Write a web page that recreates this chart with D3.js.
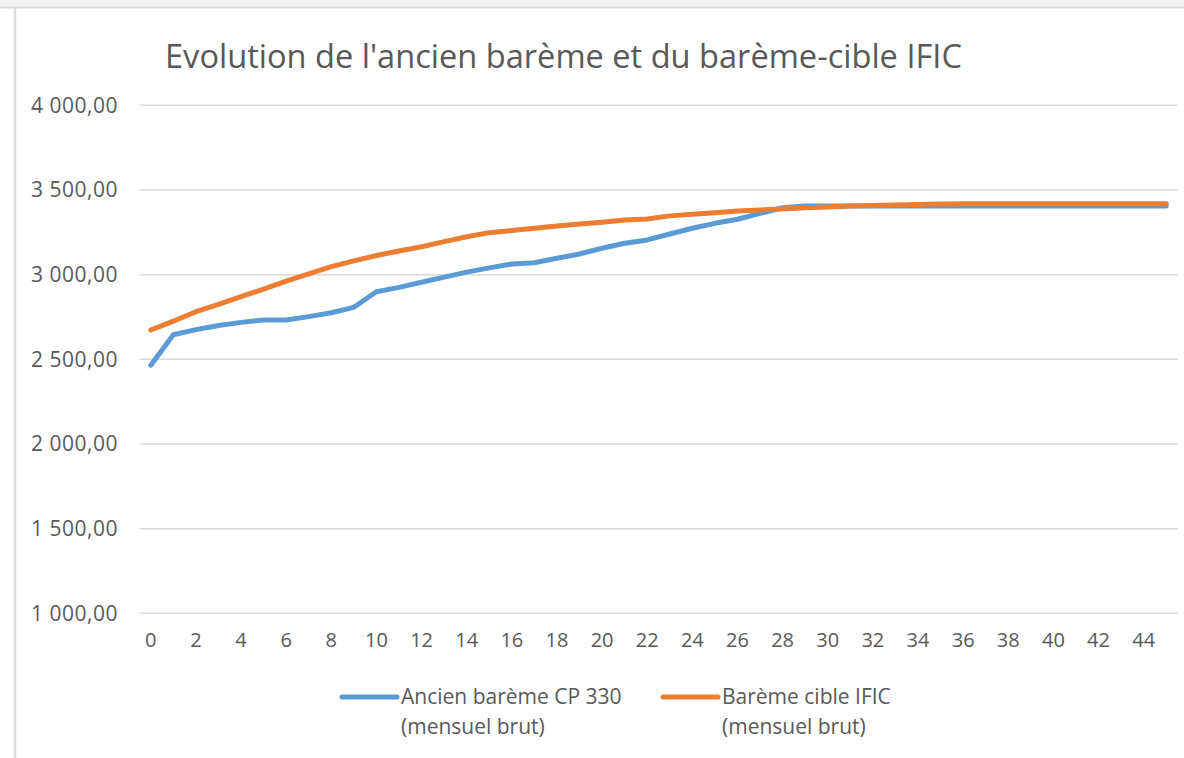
<!DOCTYPE html>
<html>
<head>
<meta charset="utf-8">
<script src="https://cdn.jsdelivr.net/npm/d3@7"></script>
<style>
  body { margin: 0; background: #fff; }
  text { font-family: "Open Sans", sans-serif; fill: #595959; }
</style>
</head>
<body>
<script>
// categories (anciennete, years)
var years = [0,1,2,3,4,5,6,7,8,9,10,11,12,13,14,15,16,17,18,19,20,21,22,23,
             24,25,26,27,28,29,30,31,32,33,34,35,36,37,38,39,40,41,42,43,44,45];

// Ancien barème CP 330 (mensuel brut)
var ancien = [2465,2645,2675,2700,2718,2732,2732,2752,2775,2807,2899,2925,2955,2985,3015,3040,
              3063,3070,3097,3122,3156,3185,3205,3240,3274,3303,3327,3362,3395,3405,3405,3405,
              3405,3405,3405,3405,3405,3405,3405,3405,3405,3405,3405,3405,3405,3405];

// Barème cible IFIC (mensuel brut)
var cible = [2673,2725,2781,2825,2870,2915,2962,3004,3047,3081,3113,3140,3165,3195,3224,3248,
             3260,3274,3287,3299,3309,3323,3329,3347,3357,3366,3376,3382,3388,3395,3400,3405,
             3408,3411,3414,3417,3419,3419,3419,3419,3419,3419,3419,3419,3419,3419];

var yTicks = [1000,1500,2000,2500,3000,3500,4000];
var seriesNames = [["Ancien barème CP 330", "(mensuel brut)"], ["Barème cible IFIC", "(mensuel brut)"]];
var colors = ["#5B9BD5", "#ED7D31"];

var WIDTH = 1184;
var HEIGHT = 758;

var svg = d3.select("body")
	.append("svg")
	.attr("width", WIDTH)
	.attr("height", HEIGHT);

// screenshot frame: grey band on top, border lines
svg.append("rect").attr("x", 0).attr("y", 0).attr("width", WIDTH).attr("height", 7).attr("fill", "#f2f2f2");
svg.append("line").attr("x1", 0).attr("x2", WIDTH).attr("y1", 7.5).attr("y2", 7.5)
	.attr("stroke", "#dcdcdc").attr("stroke-width", 2);
svg.append("line").attr("x1", 15).attr("x2", 15).attr("y1", 7).attr("y2", HEIGHT)
	.attr("stroke", "#dcdcdc").attr("stroke-width", 2.5);

var x = d3.scaleBand()
	.domain(years)
	.range([139.5, 1177.5]);

var y = d3.scaleLinear()
	.domain([1000, 4000])
	.range([613.3, 105.3]);

// french style numbers
var fr = d3.formatLocale({decimal: ",", thousands: "\u00a0", grouping: [3], currency: ["", ""]});
var fmt = fr.format(",.2f");

// gridlines
svg.append("g")
	.selectAll("line")
	.data(yTicks)
	.enter()
	.append("line")
	.attr("x1", x.range()[0])
	.attr("x2", x.range()[1])
	.attr("y1", function(d){ return y(d); })
	.attr("y2", function(d){ return y(d); })
	.attr("stroke", "#d9d9d9")
	.attr("stroke-width", 1.5);

// y axis labels
var yAxis = d3.axisLeft(y).tickValues(yTicks).tickFormat(fmt).tickSize(0).tickPadding(0);
var gy = svg.append("g").attr("transform", "translate(118,0)").call(yAxis);
gy.select(".domain").remove();
gy.selectAll("text").attr("font-size", 21).attr("letter-spacing", 0.5)
	.attr("fill", "#595959").attr("font-family", "Open Sans");

// x axis labels (every second category)
var xAxis = d3.axisBottom(x)
	.tickValues(years.filter(function(d){ return d % 2 === 0; }))
	.tickSize(0).tickPadding(0);
var gx = svg.append("g").attr("transform", "translate(0,633)").call(xAxis);
gx.select(".domain").remove();
gx.selectAll("text").attr("font-size", 20).attr("fill", "#595959").attr("font-family", "Open Sans");

var line = d3.line()
	.x(function(d, i){ return x(years[i]) + x.bandwidth() / 2; })
	.y(function(d){ return y(d); });

[ancien, cible].forEach(function(s, k){
	svg.append("path")
		.datum(s)
		.attr("d", line)
		.attr("fill", "none")
		.attr("stroke", colors[k])
		.attr("stroke-width", 5)
		.attr("stroke-linejoin", "round")
		.attr("stroke-linecap", "round");
});

// title
svg.append("text")
	.attr("x", 165)
	.attr("y", 68)
	.attr("font-size", 32.6)
	.attr("fill", "#595959")
	.text("Evolution de l'ancien barème et du barème-cible IFIC");

// legend
var legendX = [340, 661];
seriesNames.forEach(function(name, k){
	var g = svg.append("g").attr("transform", "translate(" + legendX[k] + ",697)");
	g.append("line").attr("x1", 2).attr("x2", 57).attr("y1", 0).attr("y2", 0)
		.attr("stroke", colors[k]).attr("stroke-width", 5).attr("stroke-linecap", "round");
	g.selectAll("text")
		.data(name)
		.enter()
		.append("text")
		.attr("x", 61)
		.attr("y", function(d, i){ return 7 + i * 30; })
		.attr("font-size", 21)
		.text(function(d){ return d; });
});
</script>
</body>
</html>
